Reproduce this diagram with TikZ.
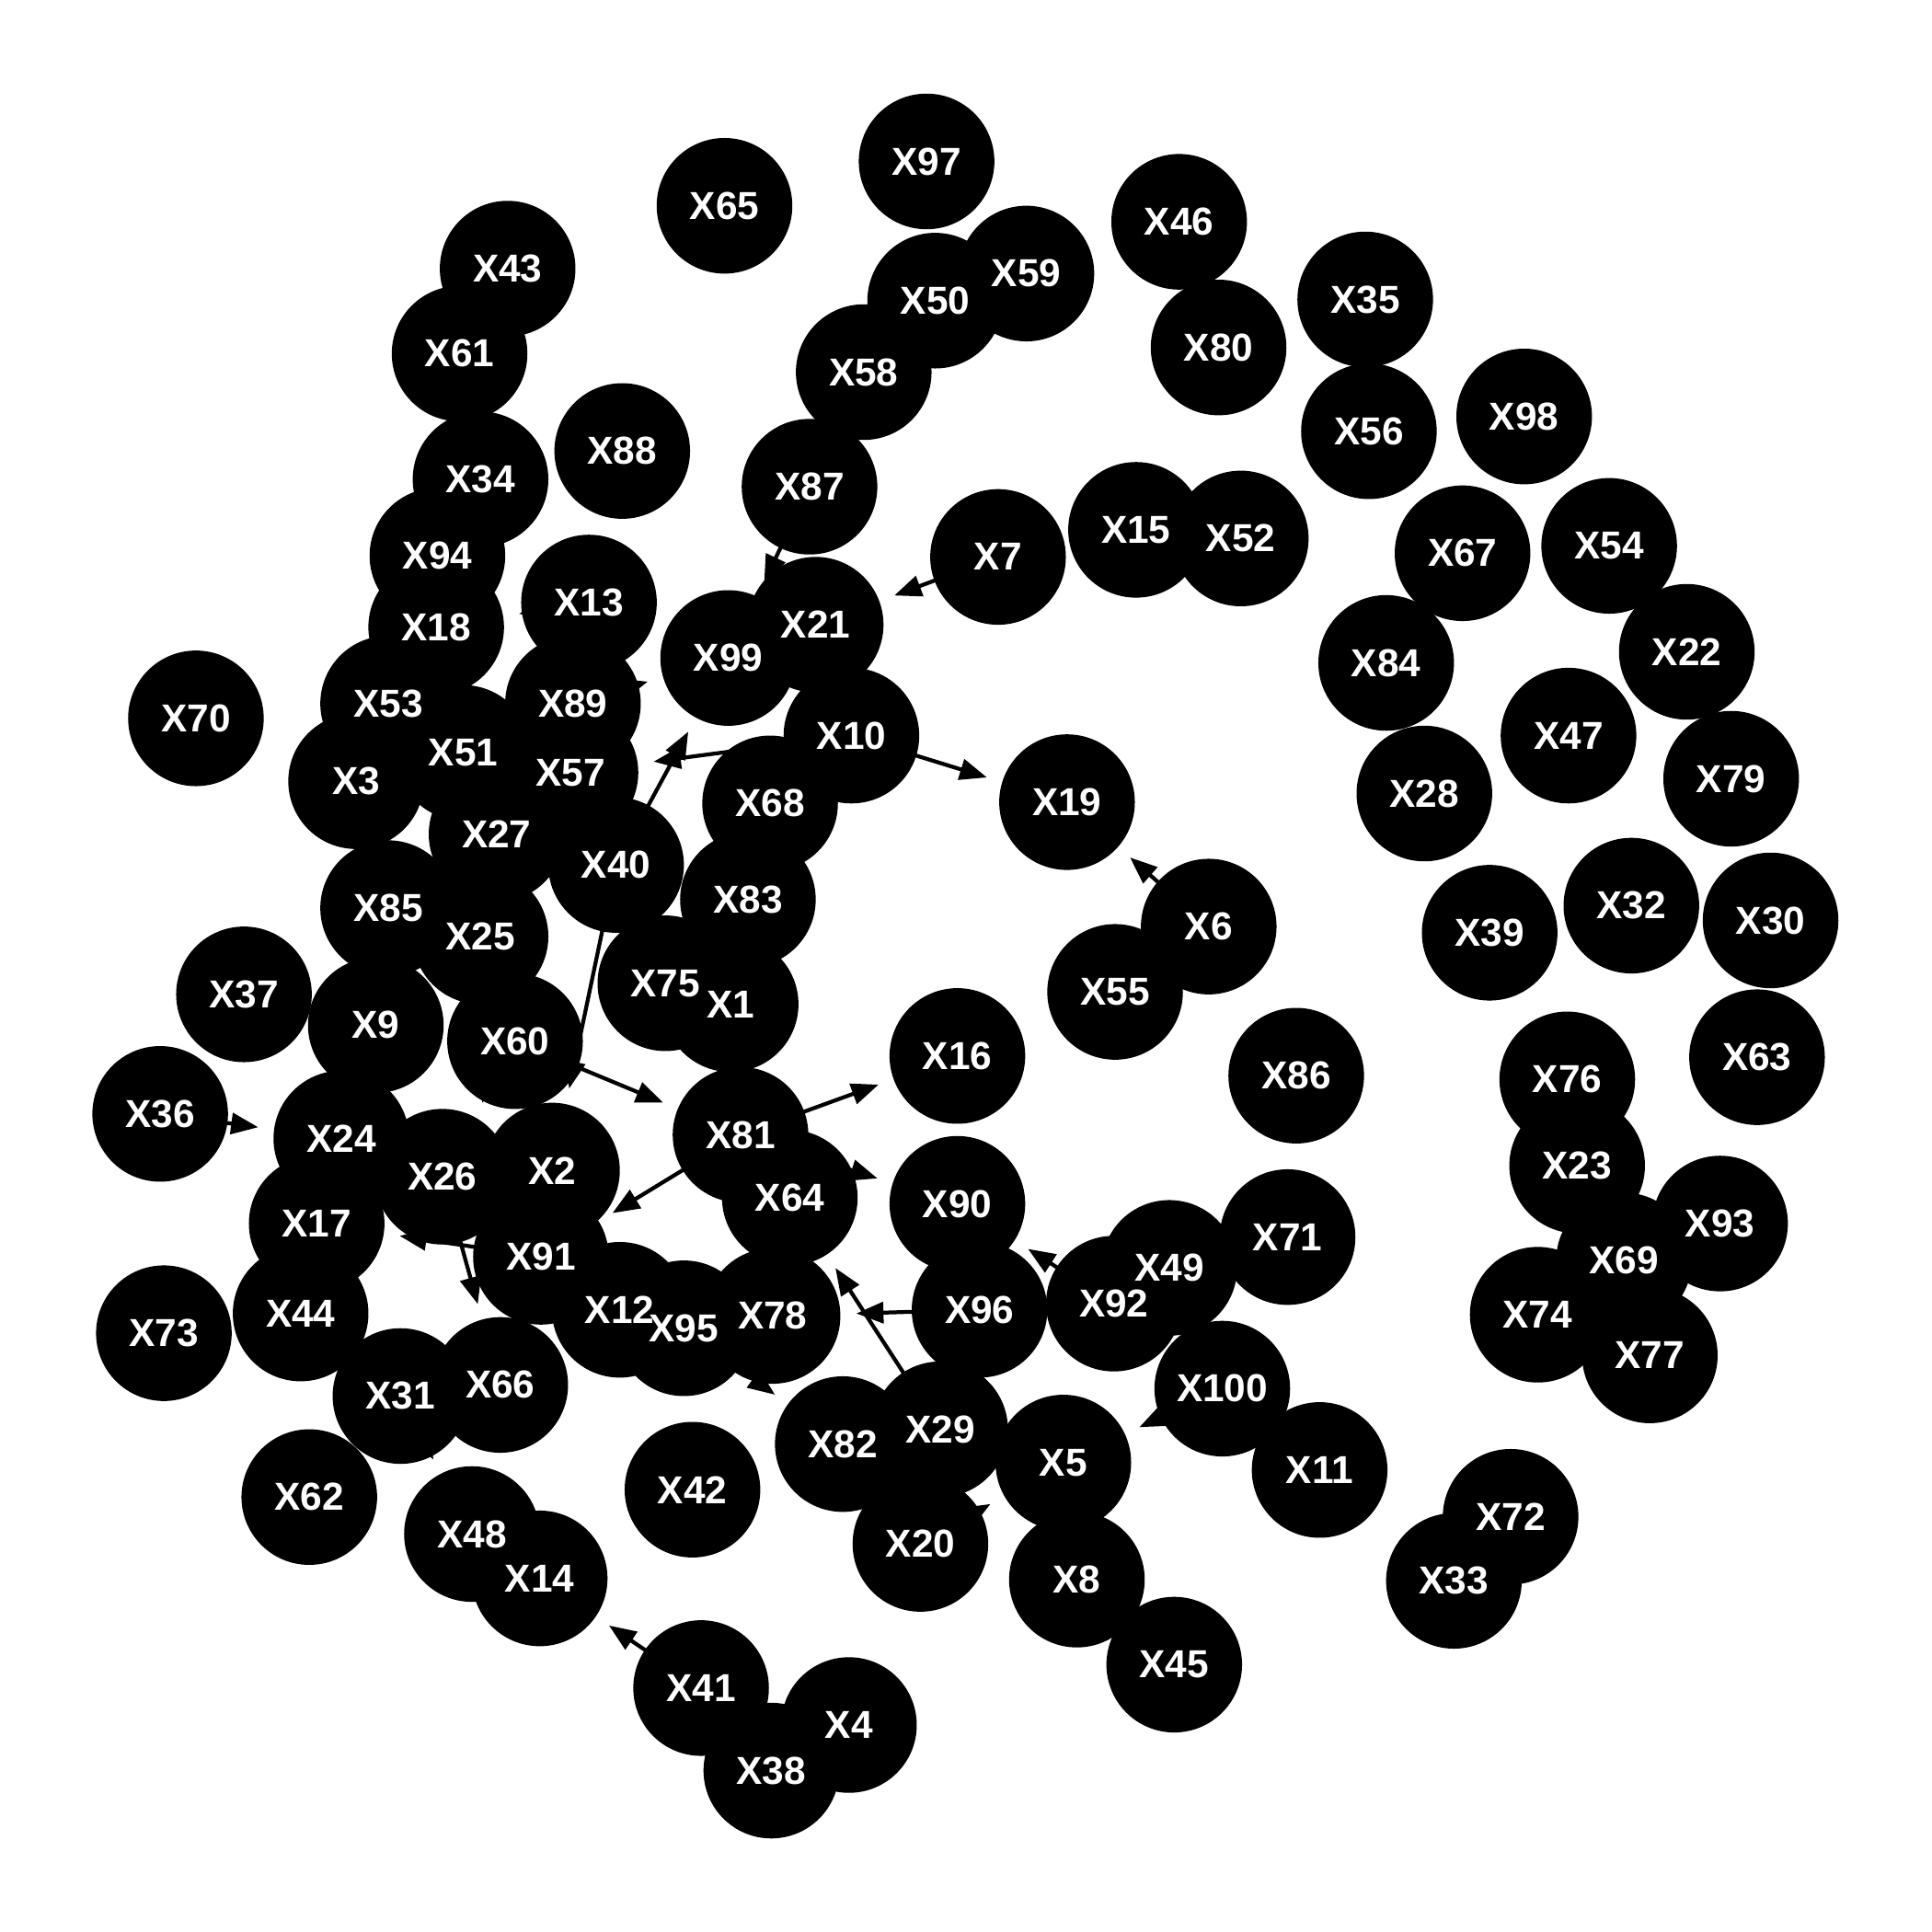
\documentclass[tikz,border=0pt]{standalone}
\usepackage{fontspec}
\setmainfont{Liberation Sans}
\usetikzlibrary{arrows.meta, calc}
\pgfdeclarelayer{back}
\pgfsetlayers{back,main}

\begin{document}
\begin{tikzpicture}[x=0.01cm, y=-0.01cm,
    vertex/.style={circle, fill=black, minimum size=1.1cm, inner sep=0pt},
    vlabel/.style={text=white, inner sep=0pt, font=\fontsize{9}{10}\selectfont\bfseries},
    link/.style={-{Triangle[length=2.2mm,width=1.7mm]}, line width=0.9pt}]

        % Frame
        \useasboundingbox (0,0) rectangle (1568,1568);

        % Vertices
        \foreach \n/\px/\py in {1/593/815, 2/448/950, 3/289/634, 4/689/1400, 5/863/1187,
            6/981/752, 7/810/452, 8/874/1282, 9/305/832, 10/691/597,
            11/1071/1193, 12/503/1063, 13/478/489, 14/438/1281, 15/922/430,
            16/777/857, 17/257/993, 18/354/509, 19/866/651, 20/747/1253,
            21/662/507, 22/1369/529, 23/1280/946, 24/277/924, 25/390/760,
            26/359/955, 27/403/677, 28/1156/644, 29/763/1160, 30/1437/747,
            31/325/1133, 32/1324/735, 33/1180/1283, 34/390/389, 35/1108/243,
            36/130/904, 37/198/807, 38/626/1437, 39/1209/757, 40/500/702,
            41/569/1370, 42/562/1209, 43/412/218, 44/244/1066, 45/953/1351,
            46/957/180, 47/1273/597, 48/383/1245, 49/949/1029, 50/759/244,
            51/376/611, 52/1007/437, 53/315/571, 54/1306/443, 55/905/805,
            56/1111/350, 57/463/627, 58/701/302, 59/833/222, 60/418/845,
            61/373/287, 62/251/1215, 63/1426/858, 64/641/972, 65/588/167,
            66/406/1124, 67/1187/449, 68/625/652, 69/1318/1023, 70/159/583,
            71/1045/1004, 72/1226/1231, 73/133/1082, 74/1248/1067, 75/540/798,
            76/1272/876, 77/1339/1100, 78/627/1068, 79/1405/632, 80/989/282,
            81/601/921, 82/684/1172, 83/607/730, 84/1125/538, 85/315/737,
            86/1052/873, 87/657/395, 88/505/366, 89/465/571, 90/777/977,
            91/439/1020, 92/904/1058, 93/1396/993, 94/355/451, 95/555/1078,
            96/795/1063, 97/752/131, 98/1237/338, 99/591/534, 100/992/1127}
            \node[vertex] (v\n) at (\px,\py) {};

        % Labels
        \foreach \n in {1,...,100} \node[vlabel] (t\n) at (v\n) {X\n};

        % Edges (tips stop a little short of the target)
        \begin{pgfonlayer}{back}
        \foreach \a/\b in {10/19, 6/19, 7/21, 87/99, 89/99, 10/57, 40/99, 40/2,
            85/60, 60/26, 60/81, 81/16, 81/91, 81/90, 29/64, 96/78, 95/82, 36/24,
            41/14, 100/5, 20/5, 13/18, 91/17, 26/66, 31/48, 92/90}
            \draw[link] (v\a.center) -- ($(v\b)!0.68cm!(v\a)$);
        \end{pgfonlayer}

\end{tikzpicture}
\end{document}
